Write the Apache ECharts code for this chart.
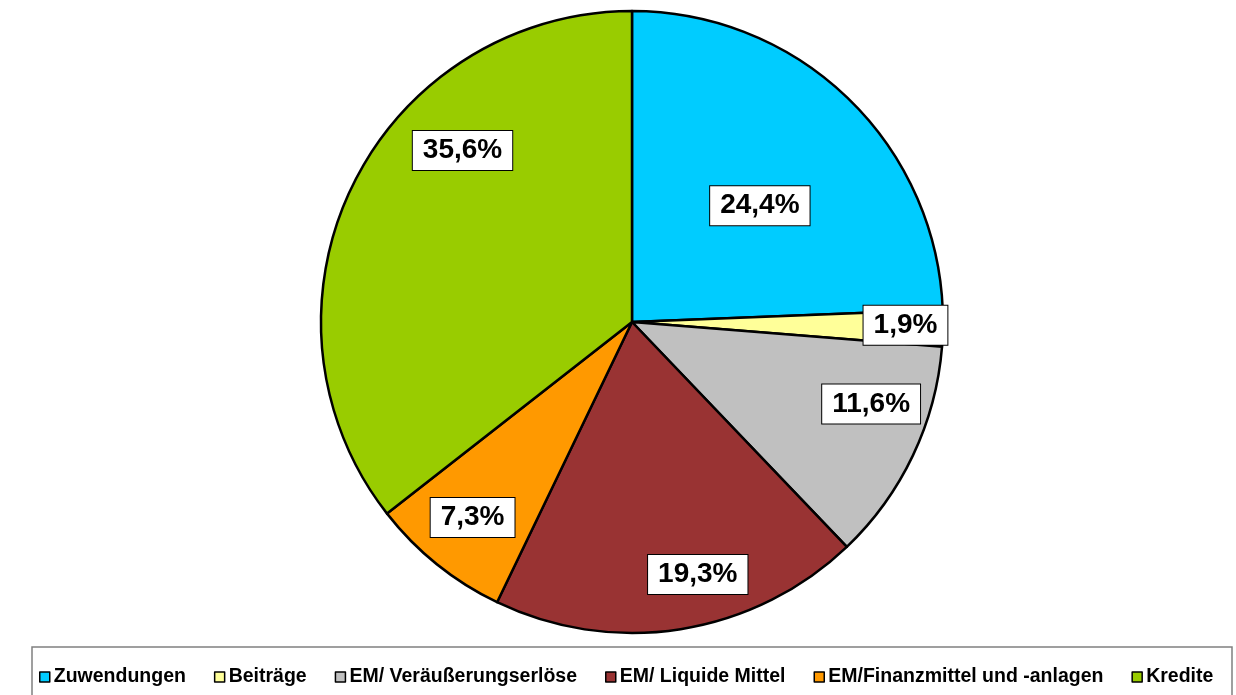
<!DOCTYPE html>
<html>
<head>
<meta charset="utf-8">
<script src="https://cdn.jsdelivr.net/npm/echarts@6/dist/echarts.min.js"></script>
<style>html,body{margin:0;padding:0;background:#fff}#c{width:1236px;height:695px}</style>
</head>
<body>
<div id="c"></div>
<script>
const categories = ['Zuwendungen', 'Beiträge', 'EM/ Veräußerungserlöse', 'EM/ Liquide Mittel', 'EM/Finanzmittel und -anlagen', 'Kredite'];
const values = [24.4, 1.9, 11.6, 19.3, 7.3, 35.6];
const colors = ['#00CCFF', '#FFFF99', '#C0C0C0', '#993333', '#FF9900', '#99CC00'];
// label nudges relative to the default inside position (px)
const labelShiftX = [18, 115, 96, 41, -60, -27];
const labelShiftY = [-2, 0, 14, 96, 72, -102];

const font = 'Liberation Sans, Arial, sans-serif';
const chart = echarts.init(document.getElementById('c'), null, {renderer: 'canvas'});
chart.setOption({
  animation: false,
  backgroundColor: '#fff',
  graphic: [{
    type: 'rect', z: -1,
    shape: {x: 32, y: 647, width: 1200, height: 70},
    style: {fill: '#fff', stroke: '#808080', lineWidth: 1.5}
  }],
  legend: {
    left: 34, top: 662,
    itemWidth: 10, itemHeight: 10, itemGap: 28,
    icon: 'rect',
    itemStyle: {borderColor: '#000', borderWidth: 1.5},
    textStyle: {fontFamily: font, fontWeight: 'bold', fontSize: 19.5, color: '#000', padding: [0, 0, 0, -1]},
    data: categories
  },
  series: [{
    type: 'pie',
    center: [632, 322],
    radius: 311,
    startAngle: 90,
    clockwise: true,
    avoidLabelOverlap: false,
    itemStyle: {borderColor: '#000', borderWidth: 2.5},
    label: {
      show: true,
      position: 'inside',
      formatter: p => p.value.toFixed(1).replace('.', ',') + '%',
      fontFamily: font, fontWeight: 'bold', fontSize: 28, color: '#000',
      backgroundColor: '#fff', borderColor: '#000', borderWidth: 1,
      padding: [6, 10, 5, 10]
    },
    labelLine: {show: false},
    labelLayout: p => ({dx: labelShiftX[p.dataIndex], dy: labelShiftY[p.dataIndex]}),
    emphasis: {disabled: true},
    data: categories.map((n, i) => ({name: n, value: values[i], itemStyle: {color: colors[i]}}))
  }]
});
</script>
</body>
</html>
